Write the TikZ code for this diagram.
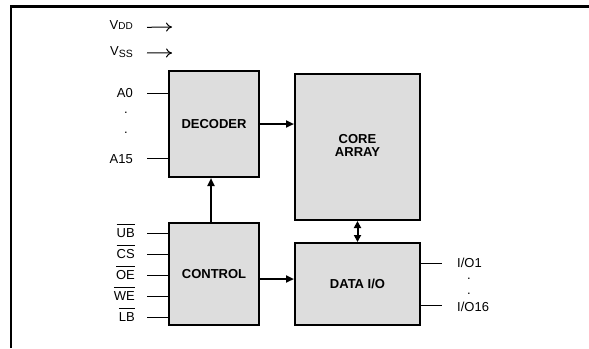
\documentclass[tikz,border=0pt]{standalone}
\usepackage{fontspec}
\setmainfont{Liberation Sans}
\usetikzlibrary{arrows.meta}
\definecolor{blockfill}{RGB}{221,221,221}
\newcommand{\nsig}[1]{\setbox0\hbox{#1}\rlap{\rule[\dimexpr\ht0+3.2bp\relax]{\wd0}{0.9bp}}\box0}

\begin{document}
\begin{tikzpicture}[
        x=1bp, y=-1bp,
        every node/.style={font=\fontsize{13bp}{14bp}\selectfont, inner sep=0pt},
        block/.style={draw, line width=2bp, fill=blockfill, align=center,
            font=\fontsize{13bp}{14bp}\selectfont\bfseries},
        sig/.style={anchor=east, text height=9bp, text depth=0pt},
        outsig/.style={anchor=west, text height=9bp, text depth=0pt},
        pin/.style={line width=1bp},
        supply/.style={line width=1bp, -{To[length=6bp,width=9bp]}},
        flow/.style={line width=2bp, -{Triangle[length=8bp,width=7bp]}},
        bus/.style={line width=2bp, {Triangle[length=7bp,width=7bp]}-{Triangle[length=7bp,width=7bp]}}
    ]
        \useasboundingbox (0,0) rectangle (589,348);

        % frame
        \draw[line width=2.3bp] (11,348) -- (11,6.5) -- (589,6.5);

        % blocks
        \node[block, minimum width=90bp, minimum height=106bp] (dec) at (214,124) {DECODER};
        \node[block, minimum width=90bp, minimum height=102bp] (ctl) at (214,274) {CONTROL};
        \node[block, minimum width=125bp, minimum height=146bp] (core) at (357.5,147) {\raisebox{4.5bp}{\begin{tabular}{@{}c@{}}CORE\\[-1bp]ARRAY\end{tabular}}};
        \node[block, minimum width=125bp, minimum height=82bp] (dio) at (357.5,284) {DATA I/O};

        % supplies
        \node[sig] (vdd) at (133,25) {V{\fontsize{10bp}{10bp}\selectfont DD}};
        \node[sig] (vss) at (133,50.5) {V\raisebox{-2.3bp}{\fontsize{10.5bp}{10bp}\selectfont SS}};
        \coordinate (vddtip) at (172,27);
        \coordinate (vsstip) at (172,53);
        \draw[supply] ([xshift=14bp,yshift=-2.3bp]vdd.east) -- (vddtip);
        \draw[supply] ([xshift=14bp,yshift=-2.3bp]vss.east) -- (vsstip);

        % address inputs
        \node[sig] (a0) at (133,93) {A0};
        \node (adot1) at (126,113) {.};
        \node (adot2) at (126,133) {.};
        \node[sig] (a15) at (133,158.5) {A15};
        \draw[pin] ([xshift=14bp]a0.east) -- (a0 -| dec.west);
        \draw[pin] ([xshift=14bp]a15.east) -- (a15 -| dec.west);

        % control inputs
        \node[sig] (ub) at (135,233) {\nsig{UB}};
        \node[sig] (cs) at (135,254) {\nsig{CS}};
        \node[sig] (oe) at (135,275) {\nsig{OE}};
        \node[sig] (we) at (135,296) {\nsig{WE}};
        \node[sig] (lb) at (135,317) {\nsig{LB}};
        \foreach \s in {ub,cs,oe,we,lb}
            \draw[pin] ([xshift=12bp]\s.east) -- (\s -| ctl.west);

        % data outputs
        \node[outsig] (io1) at (457,263) {I/O1};
        \node (iodot1) at (469,279) {.};
        \node (iodot2) at (469,294) {.};
        \node[outsig] (io16) at (457,307) {I/O16};
        \draw[pin] (dio.east |- io1) -- ([xshift=-15bp]io1.west);
        \draw[pin] ([yshift=2bp]dio.east |- io16) -- ([xshift=-15bp,yshift=2bp]io16.west);

        % internal paths
        \draw[flow] (dec.east) -- (dec.east -| core.west);
        \draw[flow] ([yshift=-5bp]ctl.east) -- ([yshift=-5bp]ctl.east -| dio.west);
        \draw[flow] ([xshift=-3bp]ctl.north) -- ([xshift=-3bp]ctl.north |- dec.south);
        \draw[bus] (dio.north) -- (core.south);
    \end{tikzpicture}
\end{document}
